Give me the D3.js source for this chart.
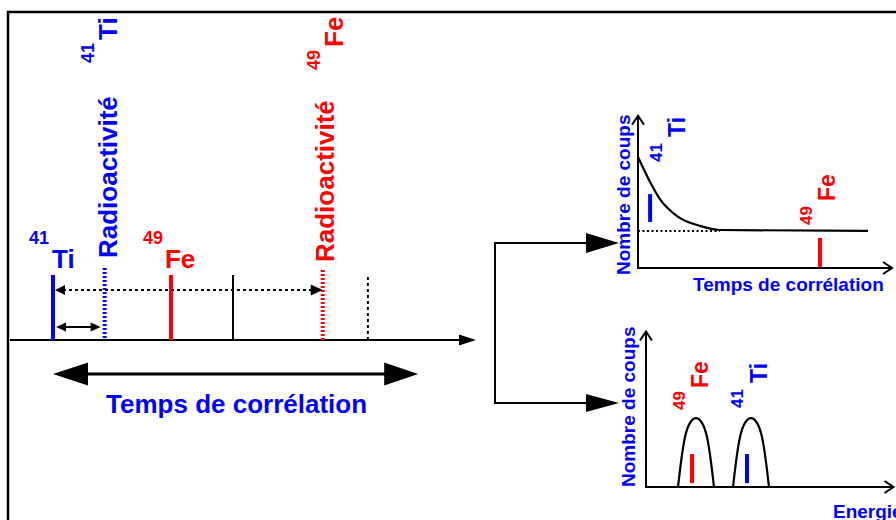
<!DOCTYPE html>
<html><head><meta charset="utf-8">
<script src="https://cdn.jsdelivr.net/npm/d3@7"></script>
<style>
body{margin:0;background:#fff}
svg{display:block}
text{font-family:"Liberation Sans",Arial,Helvetica,sans-serif;font-weight:bold}
</style>
</head><body>
<svg id="c" width="896" height="520"></svg>
<script>
// ---------- data ----------
const eventNames = ["41Ti implantation", "41Ti radioactivité", "49Fe implantation", "autre implantation", "49Fe radioactivité", "autre radioactivité"];
const eventTimes = [1.0, 2.1, 3.51, 4.83, 6.74, 7.70];
const correlationWindow = [1.0, 8.77];

const decayTimes  = [0, 0.48, 0.87, 1.55, 2.46, 3.25, 9.13];
const decayCounts = [7.07, 5.48, 4.39, 3.31, 2.68, 2.42, 2.36];
const backgroundLevel = 2.36;
const decayMarkerNames = ["41Ti", "49Fe"];
const decayMarkerTimes = [0.48, 7.22];
const decayMarkerLow  = [2.93, 0.06];
const decayMarkerHigh = [4.71, 1.91];

const energyFe   = [1.28, 1.40, 1.56, 1.76, 2.00, 2.24, 2.44, 2.60, 2.72];
const energyTi   = [3.48, 3.60, 3.76, 3.96, 4.20, 4.44, 4.64, 4.80, 4.92];
const peakCounts = [0, 1.59, 3.18, 4.08, 4.39, 4.08, 3.18, 1.59, 0];
const energyMarkerNames = ["49Fe", "41Ti"];
const energyMarkerValues = [1.84, 4.04];
const energyMarkerLow = 0.25, energyMarkerHigh = 2.1;

// ---------- styles ----------
const BLUE = "#0000ff", RED = "#ff0000", BLACK = "#000";
const eventStyle = {
  "41Ti implantation":   {c: BLUE,  w: 4, dash: null,  top: 275},
  "41Ti radioactivité":  {c: BLUE,  w: 4, dash: "2,2", top: 268},
  "49Fe implantation":   {c: RED,   w: 4, dash: null,  top: 275},
  "autre implantation":  {c: BLACK, w: 2, dash: null,  top: 275},
  "49Fe radioactivité":  {c: RED,   w: 4, dash: "2,2", top: 270},
  "autre radioactivité": {c: BLACK, w: 2, dash: "3,3", top: 277}
};
const colorOf = n => n.indexOf("Ti") >= 0 ? BLUE : RED;

const svg = d3.select("#c");
svg.append("rect").attr("width", 896).attr("height", 520).attr("fill", "#fff");
svg.append("rect").attr("x", 8).attr("y", 12).attr("width", 920).attr("height", 540)
  .attr("fill", "none").attr("stroke", "#000").attr("stroke-width", 2.5);

// helpers
function head(g, x, y, dir, len, half, fill) {
  // dir: 1 = pointing right, -1 = left, "down" etc not needed
  g.append("path").attr("d", `M${x},${y}L${x - dir * len},${y - half}L${x - dir * len},${y + half}Z`)
    .attr("fill", fill || "#000");
}
function chevron(g, x, y, dir) {
  let d;
  if (dir === "up") d = `M${x - 6},${y + 9}L${x},${y}L${x + 6},${y + 9}`;
  else d = `M${x - 9},${y - 6}L${x},${y}L${x - 9},${y + 6}`;
  g.append("path").attr("d", d).attr("fill", "none").attr("stroke", "#000").attr("stroke-width", 2);
}
function rtext(g, x, y, txt, size, color) {
  return g.append("text").attr("transform", `translate(${x},${y}) rotate(-90)`)
    .attr("font-size", size).attr("fill", color).text(txt);
}
function htext(g, x, y, txt, size, color, anchor) {
  return g.append("text").attr("x", x).attr("y", y).attr("font-size", size)
    .attr("fill", color).attr("text-anchor", anchor || "start").text(txt);
}

// ---------- left panel: timeline ----------
const xL = d3.scaleLinear().domain([0, 10]).range([6, 476]);
const axisY = 340;
const L = svg.append("g");
L.append("line").attr("x1", xL(0.085)).attr("x2", xL(10) - 14).attr("y1", axisY).attr("y2", axisY)
  .attr("stroke", "#000").attr("stroke-width", 2);
head(L, xL(10), axisY, 1, 17, 5.5);

L.selectAll("line.ev").data(eventNames).join("line").attr("class", "ev")
  .attr("x1", (d, i) => xL(eventTimes[i])).attr("x2", (d, i) => xL(eventTimes[i]))
  .attr("y1", d => eventStyle[d].top).attr("y2", axisY)
  .attr("stroke", d => eventStyle[d].c).attr("stroke-width", d => eventStyle[d].w)
  .attr("stroke-dasharray", d => eventStyle[d].dash);

// dotted correlation arrow (Ti implantation -> Fe radioactivity)
const xa = xL(eventTimes[0]) + 2, xb = xL(eventTimes[4]);
L.append("line").attr("x1", xa + 8).attr("x2", xb - 10).attr("y1", 290).attr("y2", 290)
  .attr("stroke", "#000").attr("stroke-width", 2).attr("stroke-dasharray", "3,3");
head(L, xa, 290, -1, 10, 5);
head(L, xb, 290, 1, 12, 5.5);

// small solid arrow (Ti implantation -> Ti radioactivity)
const xc = xL(eventTimes[0]) + 3, xd = xL(eventTimes[1]) - 4;
L.append("line").attr("x1", xc + 6).attr("x2", xd - 6).attr("y1", 327).attr("y2", 327)
  .attr("stroke", "#000").attr("stroke-width", 2);
head(L, xc, 327, -1, 10, 4.5);
head(L, xd, 327, 1, 10, 4.5);

// big correlation-time arrow
const xe = xL(correlationWindow[0]), xf = xL(correlationWindow[1]);
L.append("line").attr("x1", xe + 20).attr("x2", xf - 20).attr("y1", 374).attr("y2", 374)
  .attr("stroke", "#000").attr("stroke-width", 3);
head(L, xe, 374, -1, 35, 11.5);
head(L, xf, 374, 1, 34, 11.5);
htext(L, (xe + xf) / 2 + 1, 413, "Temps de corrélation", 26, BLUE, "middle");

// labels of implantations
const xTi = xL(eventTimes[0]), xFe = xL(eventTimes[2]);
htext(L, xTi - 24, 244, "41", 18, BLUE);
htext(L, xTi - 1, 268, "Ti", 26, BLUE);
htext(L, xFe - 28, 244, "49", 18, RED);
htext(L, xFe - 6, 268, "Fe", 26, RED);

// rotated labels of radioactivities
const xTiR = xL(eventTimes[1]), xFeR = xL(eventTimes[4]);
rtext(L, xTiR + 12, 258, "Radioactivité", 26, BLUE);
rtext(L, xTiR - 11, 63, "41", 18, BLUE);
rtext(L, xTiR + 12, 40, "Ti", 26, BLUE);
rtext(L, xFeR + 11, 262, "Radioactivité", 26, RED);
rtext(L, xFeR - 3, 70, "49", 18, RED);
rtext(L, xFeR + 20, 47, "Fe", 26, RED);

// ---------- connectors ----------
const C = svg.append("g");
C.append("line").attr("x1", 495).attr("x2", 495).attr("y1", 242).attr("y2", 404)
  .attr("stroke", "#000").attr("stroke-width", 2);
C.append("line").attr("x1", 494).attr("x2", 590).attr("y1", 243).attr("y2", 243)
  .attr("stroke", "#000").attr("stroke-width", 2);
head(C, 619, 243, 1, 33, 10);
C.append("line").attr("x1", 494).attr("x2", 590).attr("y1", 403).attr("y2", 403)
  .attr("stroke", "#000").attr("stroke-width", 2);
head(C, 619, 403, 1, 33, 9);

// ---------- top right: decay curve ----------
const xT = d3.scaleLinear().domain([0, 10]).range([638, 890]);
const yT = d3.scaleLinear().domain([0, 10]).range([268, 111]);
const T = svg.append("g");
T.append("line").attr("x1", xT(0)).attr("x2", xT(0)).attr("y1", yT(0) + 1).attr("y2", yT(9.7))
  .attr("stroke", "#000").attr("stroke-width", 2);
chevron(T, xT(0), yT(9.7), "up");
T.append("line").attr("x1", xT(0)).attr("x2", xT(10.08)).attr("y1", yT(0)).attr("y2", yT(0))
  .attr("stroke", "#000").attr("stroke-width", 2);
chevron(T, xT(10.08), yT(0), "right");

T.append("line").attr("x1", xT(0)).attr("x2", xT(decayTimes[5])).attr("y1", yT(backgroundLevel)).attr("y2", yT(backgroundLevel))
  .attr("stroke", "#000").attr("stroke-width", 2).attr("stroke-dasharray", "2,2.5");
T.append("path").datum(decayTimes.map((t, i) => [t, decayCounts[i]]))
  .attr("d", d3.line().x(d => xT(d[0])).y(d => yT(d[1])).curve(d3.curveMonotoneX))
  .attr("fill", "none").attr("stroke", "#000").attr("stroke-width", 2.2);

T.selectAll("line.mk").data(decayMarkerNames).join("line").attr("class", "mk")
  .attr("x1", (d, i) => xT(decayMarkerTimes[i])).attr("x2", (d, i) => xT(decayMarkerTimes[i]))
  .attr("y1", (d, i) => yT(decayMarkerLow[i])).attr("y2", (d, i) => yT(decayMarkerHigh[i]))
  .attr("stroke", d => colorOf(d)).attr("stroke-width", 4);

rtext(T, 630, 275, "Nombre de coups", 19, BLUE);
htext(T, 693, 291, "Temps de corrélation", 19, BLUE);
rtext(T, 662, 162, "41", 17, BLUE);
rtext(T, 685, 137, "Ti", 23, BLUE);
rtext(T, 812, 225, "49", 17, RED);
rtext(T, 835, 201, "Fe", 23, RED);

// ---------- bottom right: energy spectrum ----------
const xE = d3.scaleLinear().domain([0, 10]).range([646, 896]);
const yE = d3.scaleLinear().domain([0, 10]).range([487, 330]);
const E = svg.append("g");
E.append("line").attr("x1", xE(0)).attr("x2", xE(0)).attr("y1", yE(0) + 1).attr("y2", yE(9.9))
  .attr("stroke", "#000").attr("stroke-width", 2);
chevron(E, xE(0), yE(9.9), "up");
E.append("line").attr("x1", xE(0)).attr("x2", xE(9.9)).attr("y1", yE(0)).attr("y2", yE(0))
  .attr("stroke", "#000").attr("stroke-width", 2);
chevron(E, xE(9.9), yE(0), "right");

const peakLine = d3.line().x(d => xE(d[0])).y(d => yE(d[1])).curve(d3.curveNatural);
[energyFe, energyTi].forEach(arr => {
  E.append("path").datum(arr.map((e, i) => [e, peakCounts[i]]))
    .attr("d", peakLine).attr("fill", "none").attr("stroke", "#000").attr("stroke-width", 2.2);
});
E.selectAll("line.mk").data(energyMarkerNames).join("line").attr("class", "mk")
  .attr("x1", (d, i) => xE(energyMarkerValues[i])).attr("x2", (d, i) => xE(energyMarkerValues[i]))
  .attr("y1", yE(energyMarkerLow)).attr("y2", yE(energyMarkerHigh))
  .attr("stroke", d => colorOf(d)).attr("stroke-width", 4);

rtext(E, 635, 487, "Nombre de coups", 19, BLUE);
htext(E, 833, 518, "Energie", 19, BLUE);
rtext(E, 685, 410, "49", 17, RED);
rtext(E, 708, 388, "Fe", 23, RED);
rtext(E, 743, 408, "41", 17, BLUE);
rtext(E, 767, 383, "Ti", 23, BLUE);
</script>
</body></html>
